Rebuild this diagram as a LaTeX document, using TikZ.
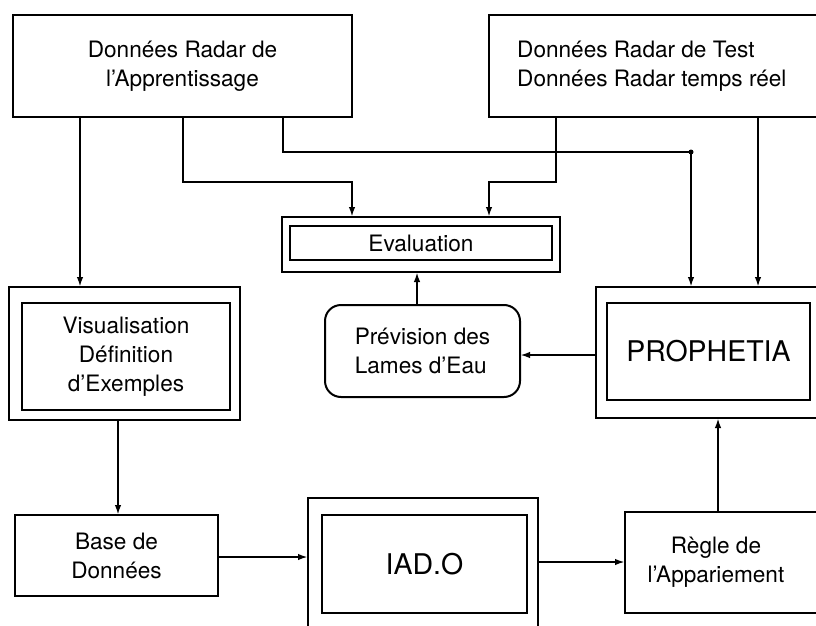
\documentclass[tikz,border=0pt]{standalone}
\usepackage{fontspec}
\setmainfont{TeX Gyre Heros}
\usetikzlibrary{positioning,arrows.meta,calc}
\newcommand\lblfont{\fontsize{22.6}{29}\selectfont}
\newcommand\titlefont{\fontsize{28.5}{32}\selectfont}

\begin{document}
\begin{tikzpicture}[
    x=1pt, y=-1pt,
    box/.style={draw, line width=2pt, inner sep=0pt, outer sep=0pt,
                align=center, font=\lblfont},
    rbox/.style={box, rounded corners=16pt},
    txt/.style={inner sep=0pt, font=\lblfont},
    ar/.style={-{Latex[length=10pt,width=6.5pt]}, line width=2pt},
  ]
    \useasboundingbox (0,0) rectangle (816,626);
    \clip (0,0) rectangle (816,626);

    % ── Top row: radar data ─────────────────────────────────────────────
    \node[box, minimum width=339, minimum height=102] (A) at (182.5,66)
      {Données Radar de\\l'Apprentissage};
    \node[box, minimum width=361, minimum height=102] (B) at (669.5,66) {};
    \node[txt, align=left, right=28pt of B.west] (Btxt)
      {Données Radar de Test\\Données Radar temps réel};

    % ── Middle: evaluation, visualisation, forecast, PROPHETIA ──────────
    \node[box, minimum width=278, minimum height=55] (eval) at (421,244.5) {};
    \node[box, minimum width=262, minimum height=34] (evalin) at (421,243)
      {Evaluation};

    \node[box, minimum width=231, minimum height=133] (vis) at (124.5,353.5) {};
    \node[box, minimum width=208, minimum height=107] (visin) at (126,356.5)
      {Visualisation\\Définition\\d'Exemples};

    \node[rbox, align=left, minimum width=195, minimum height=92] (prev)
      at (422.5,351) {Prévision des\\Lames d'Eau};

    \node[box, minimum width=254, minimum height=131] (proph) at (723,352.5) {};
    \node[box, font=\titlefont, minimum width=203, minimum height=97] (prophin)
      at (708.5,351.5) {PROPHETIA};

    % ── Bottom row: database, IAD.O, matching rule ──────────────────────
    \node[box, minimum width=203, minimum height=81] (base) at (116.5,555.5)
      {Base de\\Données};

    \node[box, minimum width=230, minimum height=152] (iad) at (423,574) {};
    \node[box, font=\titlefont, minimum width=205, minimum height=98] (iadin)
      at (424.5,564) {IAD.O};

    \node[box, minimum width=225, minimum height=101] (regle) at (737.5,562.5) {};
    \node[txt, align=center] (regletxt) at (716,562)
      {Règle de\\l'Appariement};

    % ── Arrows from the radar data ──────────────────────────────────────
    \coordinate (jn) at (691,152);
    \draw[ar] (A.south -| 80,0) -- (vis.north -| 80,0);
    \draw[ar] (A.south -| 183,0) |- (352,182) -- (eval.north -| 352,0);
    \draw[ar] (A.south -| 283,0) |- (jn) -- (proph.north -| jn);
    \fill (jn) circle (2.5);
    \draw[ar] (B.south -| 556,0) |- (489,182) -- (eval.north -| 489,0);
    \draw[ar] (B.south -| 758,0) -- (proph.north -| 758,0);

    % ── Remaining flow ──────────────────────────────────────────────────
    \draw[ar] (prev.north -| 417,0) -- (eval.south -| 417,0);
    \draw[ar] (proph.west |- 0,355) -- (prev.east |- 0,355);
    \draw[ar] (vis.south -| 118,0) -- (base.north -| 118,0);
    \draw[ar] (base.east |- 0,557) -- (iad.west |- 0,557);
    \draw[ar] (iad.east |- 0,562) -- (regle.west |- 0,562);
    \draw[ar] (regle.north -| 718,0) -- (proph.south -| 718,0);
  \end{tikzpicture}
\end{document}
